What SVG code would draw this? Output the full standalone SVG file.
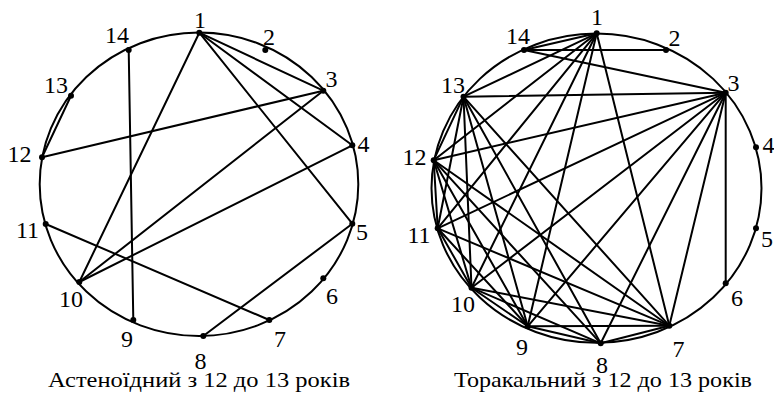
<svg xmlns="http://www.w3.org/2000/svg" width="774" height="409" viewBox="0 0 774 409" font-family="'Liberation Serif', 'DejaVu Serif', serif">
<style>
.ring{fill:none;stroke:#000;stroke-width:2}
.e line{stroke:#000;stroke-width:2;stroke-linecap:round}
.dot{fill:#000}
text{font-family:'Liberation Serif','DejaVu Serif',serif;font-size:24px;fill:#000}
text.cap{font-size:22px;text-anchor:middle}
</style>
<rect width="774" height="409" fill="#fff"/>
<g id="left">
<ellipse class="ring" cx="199" cy="184.3" rx="159.3" ry="151.7"/>
<g class="e" id="left-connectors">
<line x1="199.3" y1="32.7" x2="323.3" y2="90.7"/>
<line x1="199.3" y1="32.7" x2="352.3" y2="145.3"/>
<line x1="199.3" y1="32.7" x2="352.3" y2="223.7"/>
<line x1="199.3" y1="32.7" x2="79.3" y2="282"/>
<line x1="323.3" y1="90.7" x2="79.3" y2="282"/>
<line x1="323.3" y1="90.7" x2="42" y2="157.3"/>
<line x1="352.3" y1="145.3" x2="79.3" y2="282"/>
<line x1="352.3" y1="223.7" x2="203.3" y2="336"/>
<line x1="269.3" y1="320" x2="45.7" y2="224"/>
<line x1="133.3" y1="320" x2="128.7" y2="50"/>
<line x1="42" y1="157.3" x2="71" y2="95.7"/>
</g>
<g id="L1"><circle class="dot" cx="199.3" cy="32.7" r="3"/><text x="194" y="28">1</text></g>
<g id="L2"><circle class="dot" cx="265.3" cy="50" r="3"/><text x="263" y="45">2</text></g>
<g id="L3"><circle class="dot" cx="323.3" cy="90.7" r="3"/><text x="325.5" y="87">3</text></g>
<g id="L4"><circle class="dot" cx="352.3" cy="145.3" r="3"/><text x="357.5" y="152">4</text></g>
<g id="L5"><circle class="dot" cx="352.3" cy="223.7" r="3"/><text x="356" y="240">5</text></g>
<g id="L6"><circle class="dot" cx="323.3" cy="278.3" r="3"/><text x="326" y="304">6</text></g>
<g id="L7"><circle class="dot" cx="269.3" cy="320" r="3"/><text x="274" y="347">7</text></g>
<g id="L8"><circle class="dot" cx="203.3" cy="336" r="3"/><text x="194.5" y="369">8</text></g>
<g id="L9"><circle class="dot" cx="133.3" cy="320" r="3"/><text x="121" y="347">9</text></g>
<g id="L10"><circle class="dot" cx="79.3" cy="282" r="3"/><text x="59" y="307">10</text></g>
<g id="L11"><circle class="dot" cx="45.7" cy="224" r="3"/><text x="16" y="238">11</text></g>
<g id="L12"><circle class="dot" cx="42" cy="157.3" r="3"/><text x="7.5" y="162">12</text></g>
<g id="L13"><circle class="dot" cx="71" cy="95.7" r="3"/><text x="44" y="93">13</text></g>
<g id="L14"><circle class="dot" cx="128.7" cy="50" r="3"/><text x="105" y="43">14</text></g>
<text class="cap" x="199" y="387" textLength="302" lengthAdjust="spacingAndGlyphs">Астеноїдний з 12 до 13 років</text>
</g>
<g id="right">
<ellipse class="ring" cx="596.5" cy="188.2" rx="165" ry="154.6"/>
<g class="e" id="right-connectors">
<line x1="596.7" y1="33.3" x2="524" y2="50"/>
<line x1="524" y1="50" x2="666" y2="50"/>
<line x1="524" y1="50" x2="725.7" y2="92.7"/>
<line x1="596.7" y1="33.3" x2="463.5" y2="96.7"/>
<line x1="596.7" y1="33.3" x2="433.7" y2="160.2"/>
<line x1="596.7" y1="33.3" x2="437.7" y2="228.3"/>
<line x1="596.7" y1="33.3" x2="471.5" y2="287.7"/>
<line x1="596.7" y1="33.3" x2="527.7" y2="326.3"/>
<line x1="596.7" y1="33.3" x2="669.3" y2="325.7"/>
<line x1="725.7" y1="92.7" x2="463.5" y2="96.7"/>
<line x1="725.7" y1="92.7" x2="433.7" y2="160.2"/>
<line x1="725.7" y1="92.7" x2="437.7" y2="228.3"/>
<line x1="725.7" y1="92.7" x2="471.5" y2="287.7"/>
<line x1="725.7" y1="92.7" x2="527.7" y2="326.3"/>
<line x1="725.7" y1="92.7" x2="600.7" y2="343.3"/>
<line x1="725.7" y1="92.7" x2="669.3" y2="325.7"/>
<line x1="725.7" y1="92.7" x2="725.7" y2="283.3"/>
<line x1="463.5" y1="96.7" x2="433.7" y2="160.2"/>
<line x1="463.5" y1="96.7" x2="437.7" y2="228.3"/>
<line x1="463.5" y1="96.7" x2="471.5" y2="287.7"/>
<line x1="463.5" y1="96.7" x2="527.7" y2="326.3"/>
<line x1="463.5" y1="96.7" x2="600.7" y2="343.3"/>
<line x1="463.5" y1="96.7" x2="669.3" y2="325.7"/>
<line x1="433.7" y1="160.2" x2="437.7" y2="228.3"/>
<line x1="433.7" y1="160.2" x2="471.5" y2="287.7"/>
<line x1="433.7" y1="160.2" x2="527.7" y2="326.3"/>
<line x1="433.7" y1="160.2" x2="600.7" y2="343.3"/>
<line x1="433.7" y1="160.2" x2="669.3" y2="325.7"/>
<line x1="437.7" y1="228.3" x2="471.5" y2="287.7"/>
<line x1="437.7" y1="228.3" x2="527.7" y2="326.3"/>
<line x1="437.7" y1="228.3" x2="669.3" y2="325.7"/>
<line x1="471.5" y1="287.7" x2="527.7" y2="326.3"/>
<line x1="471.5" y1="287.7" x2="600.7" y2="343.3"/>
<line x1="471.5" y1="287.7" x2="669.3" y2="325.7"/>
<line x1="527.7" y1="326.3" x2="600.7" y2="343.3"/>
<line x1="527.7" y1="326.3" x2="669.3" y2="325.7"/>
<line x1="600.7" y1="343.3" x2="669.3" y2="325.7"/>
</g>
<g id="R1"><circle class="dot" cx="596.7" cy="33.3" r="3"/><text x="591" y="25">1</text></g>
<g id="R2"><circle class="dot" cx="666" cy="50" r="3"/><text x="668.5" y="46">2</text></g>
<g id="R3"><circle class="dot" cx="725.7" cy="92.7" r="3"/><text x="727.5" y="91">3</text></g>
<g id="R4"><circle class="dot" cx="756" cy="147.3" r="3"/><text x="762.5" y="153">4</text></g>
<g id="R5"><circle class="dot" cx="756" cy="228.3" r="3"/><text x="761" y="247">5</text></g>
<g id="R6"><circle class="dot" cx="725.7" cy="283.3" r="3"/><text x="731" y="306">6</text></g>
<g id="R7"><circle class="dot" cx="669.3" cy="325.7" r="3"/><text x="672.5" y="357">7</text></g>
<g id="R8"><circle class="dot" cx="600.7" cy="343.3" r="3"/><text x="596" y="373">8</text></g>
<g id="R9"><circle class="dot" cx="527.7" cy="326.3" r="3"/><text x="516" y="355">9</text></g>
<g id="R10"><circle class="dot" cx="471.5" cy="287.7" r="3"/><text x="451" y="312">10</text></g>
<g id="R11"><circle class="dot" cx="437.7" cy="228.3" r="3"/><text x="407.5" y="243">11</text></g>
<g id="R12"><circle class="dot" cx="433.7" cy="160.2" r="3"/><text x="402.5" y="165">12</text></g>
<g id="R13"><circle class="dot" cx="463.5" cy="96.7" r="3"/><text x="441" y="93">13</text></g>
<g id="R14"><circle class="dot" cx="524" cy="50" r="3"/><text x="506" y="44">14</text></g>
<text class="cap" x="603" y="387" textLength="298" lengthAdjust="spacingAndGlyphs">Торакальний з 12 до 13 років</text>
</g>
</svg>
